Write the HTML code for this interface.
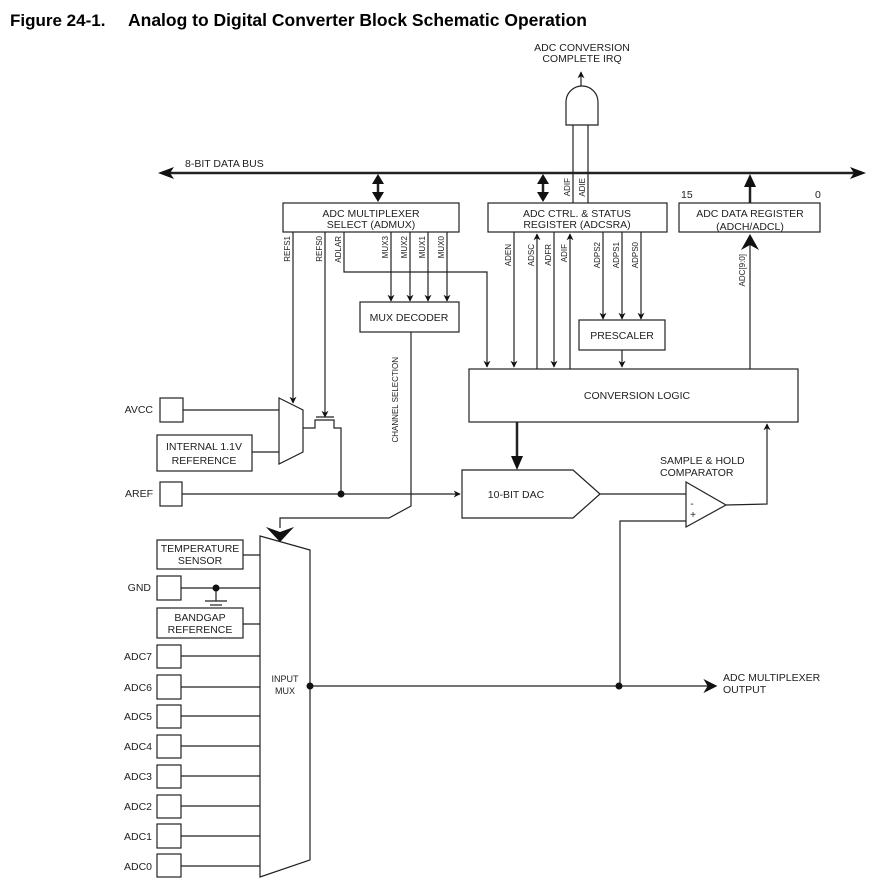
<!DOCTYPE html>
<html><head><meta charset="utf-8"><style>
html,body{margin:0;padding:0;background:#fff;}
svg{display:block;}
text{font-family:"Liberation Sans",Arial,sans-serif;fill:#222;}
</style></head><body>
<svg width="885" height="891" viewBox="0 0 885 891" xmlns="http://www.w3.org/2000/svg">
<defs>
<marker id="a" viewBox="0 0 10 10" refX="9" refY="5" markerWidth="7" markerHeight="7" markerUnits="userSpaceOnUse" orient="auto"><path d="M0,0 L10,5 L0,10 L3,5 z" fill="#111"/></marker>
<marker id="b" viewBox="0 0 10 10" refX="9" refY="5" markerWidth="14" markerHeight="14" markerUnits="userSpaceOnUse" orient="auto"><path d="M0,0 L10,5 L0,10 L3,5 z" fill="#111"/></marker>
</defs>
<text x="10" y="26" font-size="17" font-weight="bold" style="fill:#000">Figure 24-1.</text>
<text x="128" y="26" font-size="17.5" font-weight="bold" style="fill:#000">Analog to Digital Converter Block Schematic Operation</text>

<g stroke="#222" fill="none" stroke-width="1.2">
<line x1="170" y1="173" x2="855" y2="173" stroke-width="2.5"/>
<path d="M158,173 L174,167 L170,173 L174,179 z M866,173 L850,167 L854,173 L850,179 z" fill="#111" stroke="none"/>
<g stroke-width="2.5"><line x1="378" y1="182" x2="378" y2="194"/><line x1="543" y1="182" x2="543" y2="194"/></g>
<path d="M378,174 L372,184 L384,184 z M378,202 L372,192 L384,192 z M543,174 L537,184 L549,184 z M543,202 L537,192 L549,192 z" fill="#111" stroke="none"/>
<line x1="750" y1="203" x2="750" y2="185" stroke-width="2.5"/>
<path d="M750,174 L744,187 L756,187 z" fill="#111" stroke="none"/>
<rect x="283" y="203" width="176" height="29"/>
<rect x="488" y="203" width="179" height="29"/>
<rect x="679" y="203" width="141" height="29"/>
<rect x="360" y="302" width="99" height="30"/>
<rect x="579" y="320" width="86" height="30"/>
<rect x="469" y="369" width="329" height="53"/>
<path d="M566,125 L566,102 A16,16 0 0 1 598,102 L598,125 z"/>
<line x1="581" y1="86" x2="581" y2="72" marker-end="url(#a)"/>
<line x1="573" y1="125" x2="573" y2="203"/><line x1="588" y1="125" x2="588" y2="203"/>
<line x1="293" y1="232" x2="293" y2="403" marker-end="url(#a)"/>
<line x1="325" y1="232" x2="325" y2="417" marker-end="url(#a)"/>
<path d="M344,232 L344,272 L487,272 L487,367" marker-end="url(#a)"/>
<line x1="391" y1="232" x2="391" y2="301" marker-end="url(#a)"/>
<line x1="410" y1="232" x2="410" y2="301" marker-end="url(#a)"/>
<line x1="428" y1="232" x2="428" y2="301" marker-end="url(#a)"/>
<line x1="447" y1="232" x2="447" y2="301" marker-end="url(#a)"/>
<path d="M411,332 L411,506 L389,518 L280,518 L280,528"/>
<path d="M280,542 L266,527 L280,532 L294,527 z" fill="#111" stroke="none"/>
<line x1="514" y1="232" x2="514" y2="367" marker-end="url(#a)"/>
<line x1="537" y1="369" x2="537" y2="234" marker-end="url(#a)"/>
<line x1="554" y1="232" x2="554" y2="367" marker-end="url(#a)"/>
<line x1="570" y1="369" x2="570" y2="234" marker-end="url(#a)"/>
<line x1="603" y1="232" x2="603" y2="319" marker-end="url(#a)"/>
<line x1="622" y1="232" x2="622" y2="319" marker-end="url(#a)"/>
<line x1="641" y1="232" x2="641" y2="319" marker-end="url(#a)"/>
<line x1="622" y1="350" x2="622" y2="367" marker-end="url(#a)"/>
<line x1="750" y1="369" x2="750" y2="245"/>
<path d="M750,234 L741,250 L750,245 L759,250 z" fill="#111" stroke="none"/>
<line x1="517" y1="422" x2="517" y2="458" stroke-width="2.5"/>
<path d="M517,470 L511,456 L523,456 z" fill="#111" stroke="none"/>
<path d="M462,470 L573,470 L600,494 L573,518 L462,518 z"/>
<path d="M686,482 L726,505 L686,527 z"/>
<line x1="600" y1="494" x2="686" y2="494"/>
<path d="M726,505 L767,504 L767,424" marker-end="url(#a)"/>
<path d="M686,521 L620,521 L620,686"/>
<rect x="160" y="398" width="23" height="24"/>
<rect x="157" y="435" width="95" height="36"/>
<rect x="160" y="482" width="22" height="24"/>
<path d="M279,398 L303,410 L303,452 L279,464 z"/>
<line x1="183" y1="410" x2="279" y2="410"/>
<line x1="252" y1="452" x2="279" y2="452"/>
<path d="M303,428 L315,428 L315,420 L334,420 L334,428 L341,428 L341,494"/>
<line x1="316" y1="417" x2="334" y2="417"/>
<line x1="182" y1="494" x2="460" y2="494" marker-end="url(#a)"/>
<path d="M260,536 L310,550 L310,860 L260,877 z"/>
<rect x="157" y="540" width="86" height="29"/>
<rect x="157" y="576" width="24" height="24"/>
<rect x="157" y="608" width="86" height="30"/>
<line x1="243" y1="555" x2="260" y2="555"/>
<line x1="181" y1="588" x2="260" y2="588"/>
<line x1="216" y1="588" x2="216" y2="601"/>
<line x1="205" y1="601" x2="227" y2="601"/>
<line x1="210" y1="605" x2="222" y2="605"/>
<line x1="243" y1="624" x2="260" y2="624"/>
<g>
<rect x="157" y="645" width="24" height="23"/><line x1="181" y1="656" x2="260" y2="656"/>
<rect x="157" y="675" width="24" height="24"/><line x1="181" y1="687" x2="260" y2="687"/>
<rect x="157" y="705" width="24" height="23"/><line x1="181" y1="716" x2="260" y2="716"/>
<rect x="157" y="735" width="24" height="23"/><line x1="181" y1="746" x2="260" y2="746"/>
<rect x="157" y="765" width="24" height="23"/><line x1="181" y1="776" x2="260" y2="776"/>
<rect x="157" y="795" width="24" height="23"/><line x1="181" y1="806" x2="260" y2="806"/>
<rect x="157" y="824" width="24" height="24"/><line x1="181" y1="836" x2="260" y2="836"/>
<rect x="157" y="854" width="24" height="23"/><line x1="181" y1="866" x2="260" y2="866"/>
</g>
<line x1="310" y1="686" x2="716" y2="686" marker-end="url(#b)"/>
</g>
<g fill="#111">
<circle cx="341" cy="494" r="3.5"/><circle cx="216" cy="588" r="3.5"/>
<circle cx="310" cy="686" r="3.5"/><circle cx="619" cy="686" r="3.5"/>
</g>

<g font-size="10.5" text-anchor="middle">
<text x="582" y="51">ADC CONVERSION</text><text x="582" y="62">COMPLETE IRQ</text>
<text x="371" y="217">ADC MULTIPLEXER</text><text x="371" y="228">SELECT (ADMUX)</text>
<text x="577" y="217">ADC CTRL. &amp; STATUS</text><text x="577" y="228">REGISTER (ADCSRA)</text>
<text x="750" y="217">ADC DATA REGISTER</text><text x="750" y="230">(ADCH/ADCL)</text>
<text x="409" y="321">MUX DECODER</text>
<text x="622" y="339">PRESCALER</text>
<text x="637" y="399">CONVERSION LOGIC</text>
<text x="516" y="498">10-BIT DAC</text>
<text x="204" y="450">INTERNAL 1.1V</text><text x="204" y="464">REFERENCE</text>
<text x="200" y="552">TEMPERATURE</text><text x="200" y="564">SENSOR</text>
<text x="200" y="621">BANDGAP</text><text x="200" y="633">REFERENCE</text>
<text x="285" y="682" font-size="9">INPUT</text><text x="285" y="694" font-size="9">MUX</text>
<text x="692" y="507" font-size="10">-</text><text x="693" y="518" font-size="10">+</text>
</g>
<g font-size="10.5">
<text x="185" y="167">8-BIT DATA BUS</text>
<text x="681" y="198">15</text><text x="815" y="198">0</text>
<text x="660" y="464">SAMPLE &amp; HOLD</text><text x="660" y="476">COMPARATOR</text>
<text x="723" y="681">ADC MULTIPLEXER</text><text x="723" y="693">OUTPUT</text>
</g>
<g font-size="10.5" text-anchor="end">
<text x="153" y="413">AVCC</text><text x="153" y="497">AREF</text><text x="151" y="591">GND</text>
<text x="152" y="660">ADC7</text><text x="152" y="691">ADC6</text><text x="152" y="720">ADC5</text><text x="152" y="750">ADC4</text>
<text x="152" y="780">ADC3</text><text x="152" y="810">ADC2</text><text x="152" y="840">ADC1</text><text x="152" y="870">ADC0</text>
</g>
<g font-size="8" text-anchor="end">
<text transform="translate(290,236) rotate(-90)">REFS1</text>
<text transform="translate(322,236) rotate(-90)">REFS0</text>
<text transform="translate(341,236) rotate(-90)">ADLAR</text>
<text transform="translate(388,236) rotate(-90)">MUX3</text>
<text transform="translate(407,236) rotate(-90)">MUX2</text>
<text transform="translate(425,236) rotate(-90)">MUX1</text>
<text transform="translate(444,236) rotate(-90)">MUX0</text>
<text transform="translate(511,244) rotate(-90)">ADEN</text>
<text transform="translate(534,244) rotate(-90)">ADSC</text>
<text transform="translate(551,244) rotate(-90)">ADFR</text>
<text transform="translate(567,244) rotate(-90)">ADIF</text>
<text transform="translate(600,242) rotate(-90)">ADPS2</text>
<text transform="translate(619,242) rotate(-90)">ADPS1</text>
<text transform="translate(638,242) rotate(-90)">ADPS0</text>
<text transform="translate(570,178) rotate(-90)">ADIF</text>
<text transform="translate(585,178) rotate(-90)">ADIE</text>
<text transform="translate(745,254) rotate(-90)">ADC[9:0]</text>
<text transform="translate(398,357) rotate(-90)">CHANNEL SELECTION</text>
</g>
</svg>
</body></html>
